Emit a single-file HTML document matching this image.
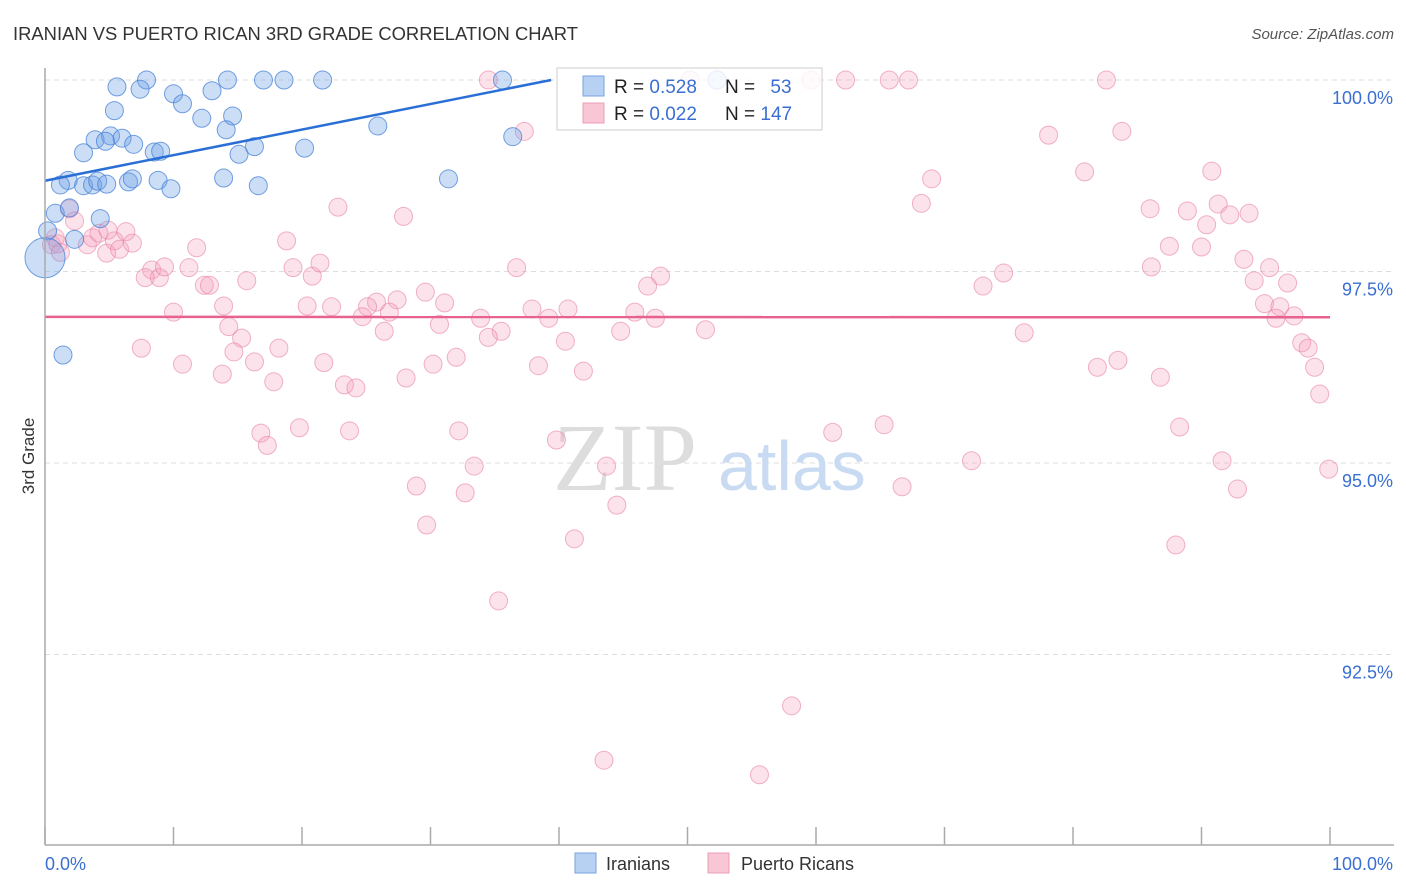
<!DOCTYPE html>
<html><head><meta charset="utf-8">
<style>
body{margin:0;background:#fff;font-family:"Liberation Sans",sans-serif;}
svg{display:block}
</style></head>
<body>
<svg id="chart" width="1406" height="892" viewBox="0 0 1406 892" xmlns="http://www.w3.org/2000/svg">
<text x="13" y="40" font-size="18.5" fill="#333" textLength="565" lengthAdjust="spacingAndGlyphs">IRANIAN VS PUERTO RICAN 3RD GRADE CORRELATION CHART</text>
<text x="1394" y="39" font-size="15" fill="#555" font-style="italic" text-anchor="end">Source: ZipAtlas.com</text>
<text transform="translate(34,456) rotate(-90)" font-size="17" fill="#333" text-anchor="middle">3rd Grade</text>
<g id="grid"></g>
<g>
<text x="553" y="490" font-family="Liberation Serif,serif" font-size="96" fill="#ddd">ZIP</text>
<text x="718" y="490" font-size="70" fill="#c9dbf2">atlas</text>
</g>
<g id="pts-pink"></g>
<g id="pts-blue"></g>
<g id="lines"></g>
<g id="axes"></g>
<g>
<rect x="557" y="68" width="265" height="62" fill="rgba(255,255,255,0.82)" stroke="#ccc"/>
<rect x="583" y="76" width="21" height="20" fill="#b7d1f3" stroke="#7aa3e0"/>
<rect x="583" y="103" width="21" height="20" fill="#f9c6d5" stroke="#ec9fb6"/>
<text x="614" y="93" font-size="19" fill="#222">R = <tspan fill="#3a6fd1">0.528</tspan></text>
<text x="725" y="93" font-size="19" fill="#222">N = <tspan fill="#3a6fd1" dx="10">53</tspan></text>
<text x="614" y="120" font-size="19" fill="#222">R = <tspan fill="#3a6fd1">0.022</tspan></text>
<text x="725" y="120" font-size="19" fill="#222">N = <tspan fill="#3a6fd1">147</tspan></text>
</g>
<g>
<rect x="575" y="853" width="21" height="20" fill="#b7d1f3" stroke="#7aa3e0"/>
<text x="606" y="870" font-size="18" fill="#333">Iranians</text>
<rect x="708" y="853" width="21" height="20" fill="#f9c6d5" stroke="#ec9fb6"/>
<text x="741" y="870" font-size="18" fill="#333">Puerto Ricans</text>
</g>
</svg>
<script>
const yTicks=[100,97.5,95,92.5];
const yTickLabels=["100.0%","97.5%","95.0%","92.5%"];
const xTickCount=10;
const xAxisLabels=["0.0%","100.0%"];
const blueX=[5.6,7.9,7.4,10.0,10.7,13.0,14.2,17.0,18.6,21.6,35.6,52.3,5.4,12.2,14.6,14.1,25.9,36.4,3.9,5.1,6.0,4.7,6.9,3.0,8.5,9.0,15.1,16.3,20.2,1.8,1.2,3.0,3.7,4.1,4.8,6.5,6.8,8.8,9.8,13.9,16.6,31.4,0.8,1.9,4.3,2.3,0.2,0,1.4];
const blueY=[99.91,100,99.88,99.82,99.69,99.86,100,100,100,100,100,100,99.60,99.50,99.53,99.35,99.40,99.26,99.22,99.27,99.24,99.20,99.16,99.05,99.06,99.07,99.03,99.13,99.11,98.69,98.63,98.62,98.63,98.68,98.64,98.67,98.71,98.69,98.58,98.72,98.62,98.71,98.26,98.33,98.19,97.92,98.03,97.68,96.41];
const blueR=[9,9,9,9,9,9,9,9,9,9,9,9,9,9,9,9,9,9,9,9,9,9,9,9,9,9,9,9,9,9,9,9,9,9,9,9,9,9,9,9,9,9,9,9,9,9,9,20,9];
const pinkX=[34.5,50.2,59.6,62.3,65.7,67.2,82.6,37.3,78.1,83.8,80.9,69.0,90.8,22.8,27.9,68.2,86.0,88.9,91.3,92.2,93.7,90.4,1.9,2.3,0.8,0.5,3.3,3.7,4.2,4.8,5.4,5.8,6.3,6.8,11.8,18.8,87.5,90.0,93.3,8.3,8.9,9.3,11.2,7.8,10.0,12.4,12.8,15.7,19.3,20.8,21.4,36.7,47.9,46.9,74.6,86.1,95.3,94.1,96.7,73.0,13.9,20.4,22.3,25.8,25.1,27.4,24.7,26.8,29.6,31.1,33.9,37.9,39.2,40.7,45.9,47.5,94.9,96.1,95.8,97.2,14.3,15.3,26.4,30.7,35.5,34.5,40.5,44.8,51.4,76.2,7.5,14.7,18.2,32.0,10.7,16.3,21.7,30.2,38.4,83.5,81.9,97.8,98.3,98.8,13.8,17.8,23.3,24.2,28.1,41.9,86.8,99.2,16.8,17.3,19.8,23.7,32.2,39.8,61.3,65.3,88.3,33.4,43.7,72.1,91.6,99.9,28.9,32.7,44.5,66.7,92.8,29.7,41.2,88.0,35.3,58.1,43.5,55.6,1.0,4.9,1.2];
const pinkY=[100,100,100,100,100,100,100,99.33,99.28,99.33,98.80,98.71,98.81,98.34,98.22,98.39,98.32,98.29,98.38,98.24,98.26,98.11,98.32,98.16,97.94,97.85,97.85,97.94,98.00,97.74,97.90,97.79,98.02,97.87,97.81,97.90,97.83,97.82,97.66,97.52,97.42,97.56,97.55,97.42,96.97,97.32,97.32,97.38,97.55,97.44,97.61,97.55,97.44,97.31,97.48,97.56,97.55,97.38,97.35,97.31,97.05,97.05,97.04,97.10,97.04,97.13,96.91,96.97,97.23,97.09,96.89,97.01,96.89,97.01,96.97,96.89,97.08,97.04,96.89,96.92,96.78,96.63,96.72,96.81,96.72,96.64,96.59,96.72,96.74,96.70,96.50,96.45,96.50,96.38,96.29,96.32,96.31,96.29,96.27,96.34,96.25,96.57,96.50,96.25,96.16,96.06,96.02,95.98,96.11,96.20,96.12,95.90,95.39,95.23,95.46,95.42,95.42,95.30,95.40,95.50,95.47,94.96,94.96,95.03,95.03,94.92,94.70,94.61,94.45,94.69,94.66,94.19,94.01,93.93,93.20,91.83,91.12,90.93,97.86,98.04,97.75];

const NS="http://www.w3.org/2000/svg";
const X0=45,X1=1330,Y100=80,PX_PER=191.5/2.5;
function sx(v){return X0+(X1-X0)*v/100;}
function sy(v){return Y100+(100-v)*PX_PER;}
function mk(tag,attrs,parent){const e=document.createElementNS(NS,tag);for(const k in attrs)e.setAttribute(k,attrs[k]);parent.appendChild(e);return e;}

const grid=document.getElementById('grid');
yTicks.forEach((t,i)=>{
  const l=mk('line',{x1:X0,x2:1394,y1:sy(t),y2:sy(t),stroke:'#ddd','stroke-dasharray':'5,4'},grid);
  
  
  const tx=mk('text',{x:1393,y:sy(t)+24,'font-size':18,fill:'#3a6fd1','text-anchor':'end'},grid);
  tx.textContent=yTickLabels[i];
  
  
});
const axes=document.getElementById('axes');
const ya=mk('line',{x1:X0,x2:X0,y1:68,y2:845,stroke:'#aaa','stroke-width':1.5},axes);


const xa=mk('line',{x1:X0,x2:1394,y1:845,y2:845,stroke:'#aaa','stroke-width':1.5},axes);


for(let i=0;i<=xTickCount;i++){
  const v=i*100/xTickCount;
  const t=mk('line',{x1:sx(v),x2:sx(v),y1:827,y2:845,stroke:'#aaa','stroke-width':1.5},axes);
  
  
}
const xl0=mk('text',{x:45,y:870,'font-size':18,fill:'#3a6fd1'},axes);
xl0.textContent=xAxisLabels[0];


const xl1=mk('text',{x:1393,y:870,'font-size':18,fill:'#3a6fd1','text-anchor':'end'},axes);
xl1.textContent=xAxisLabels[1];



function drawPts(gid,xs,ys,rs,fill,stroke,name){
  const g=document.getElementById(gid);
  xs.forEach((x,i)=>{
    const c=mk('circle',{cx:sx(x),cy:sy(ys[i]),r:rs?rs[i]:9,fill:fill,stroke:stroke,'stroke-width':1},g);
    
    
  });
}
drawPts('pts-pink',pinkX,pinkY,null,'rgba(244,160,188,0.3)','rgba(232,130,162,0.6)','puerto-rican-point');
drawPts('pts-blue',blueX,blueY,blueR,'rgba(110,160,230,0.35)','rgba(70,130,215,0.75)','iranian-point');

function fit(xs,ys){const n=xs.length;let mx=0,my=0;xs.forEach((x,i)=>{mx+=x;my+=ys[i];});mx/=n;my/=n;let sxy=0,sxx=0;xs.forEach((x,i)=>{sxy+=(x-mx)*(ys[i]-my);sxx+=(x-mx)*(x-mx);});const b=sxy/sxx;return [my-b*mx,b];}
const lines=document.getElementById('lines');
const [ba,bb]=fit(blueX,blueY);
let bxEnd=100; if(bb>0){bxEnd=Math.min(100,(100-ba)/bb);}
const bl=mk('line',{x1:sx(0),y1:sy(ba),x2:sx(bxEnd),y2:sy(ba+bb*bxEnd),stroke:'#2a6fd6','stroke-width':2.5},lines);


const [pa,pb]=fit(pinkX,pinkY);
const pl=mk('line',{x1:sx(0),y1:sy(pa),x2:sx(100),y2:sy(pa+pb*100),stroke:'#e8628f','stroke-width':2.5},lines);


</script>
</body></html>
